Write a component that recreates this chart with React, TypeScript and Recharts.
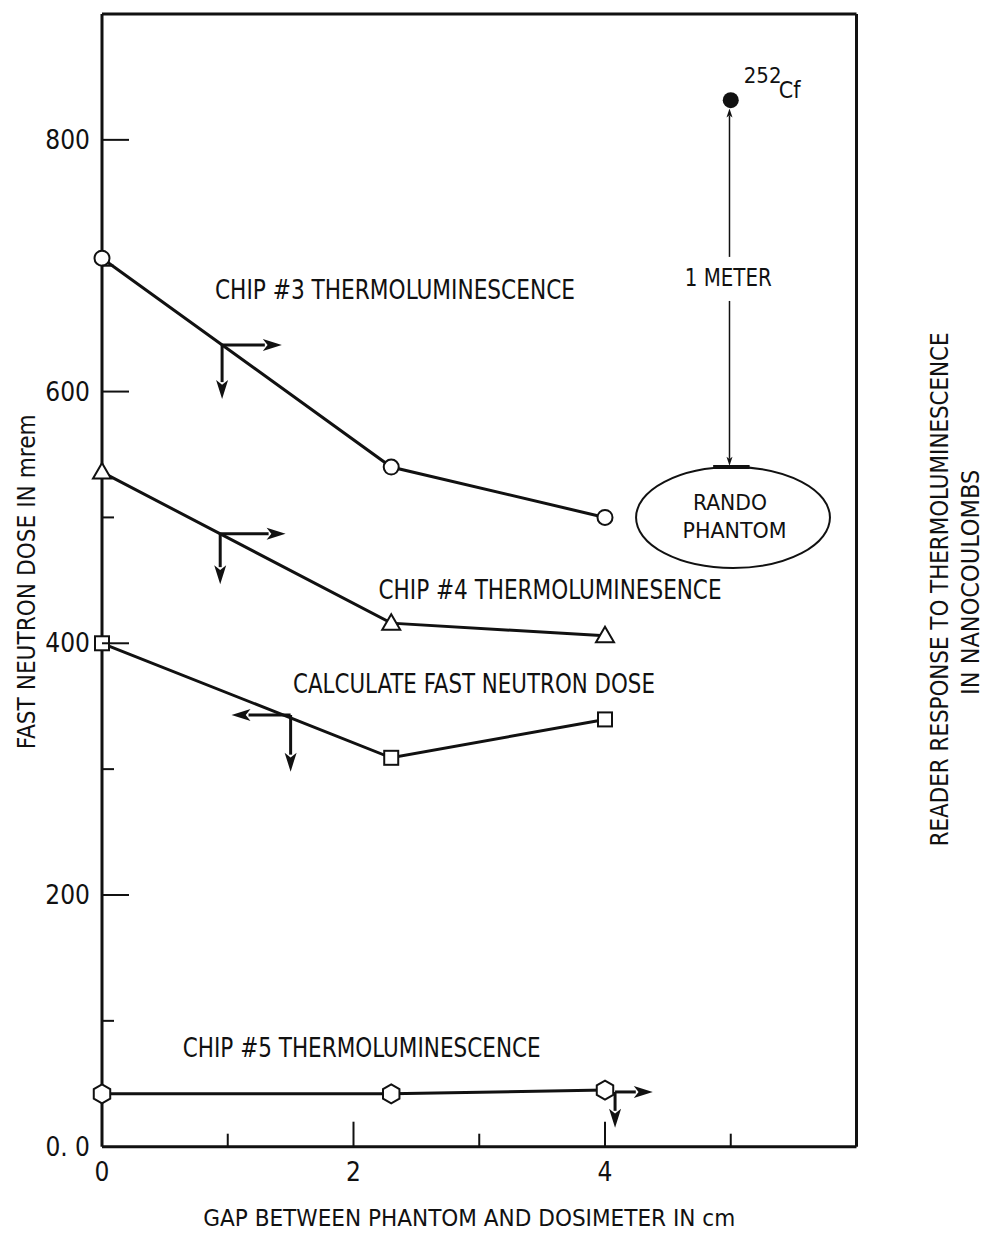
import React from 'react';
import {
  ComposedChart,
  Line,
  XAxis,
  YAxis,
  ReferenceLine,
  ReferenceDot,
  ReferenceArea,
} from 'recharts';

// ---------- data ----------
const gapCm = [0, 2.3, 4];
const chip3Response = [706, 540, 500];
const chip4Response = [536, 416, 406];
const calculatedDose = [400, 309, 339.5];
const chip5Response = [42, 42, 45];

// ---------- axes ----------
const xTicks = [0, 1, 2, 3, 4, 5];
const xTickLabels: Record<number, string> = { 0: '0', 2: '2', 4: '4' };
const leftTicks = [0, 100, 200, 300, 400, 500, 600, 700, 800];
const leftTickLabels: Record<number, string> = { 0: '0. 0', 200: '200', 400: '400', 600: '600', 800: '800' };
const rightTicks = [1, 2, 3, 4, 5, 6, 7, 8];
const rightTickLabels: Record<number, string> = { 2: '2. 0', 4: '4. 0', 6: '6. 0', 8: '8. 0' };

// ---------- annotations (data units) ----------
const textNotes = [
  { text: 'CHIP #3 THERMOLUMINESCENCE', x: 2.33, y: 681, len: 360, size: 26 },
  { text: 'CHIP #4 THERMOLUMINESENCE', x: 3.563, y: 442.6, len: 343, size: 26 },
  { text: 'CALCULATE FAST NEUTRON DOSE', x: 2.958, y: 368, len: 362, size: 26 },
  { text: 'CHIP #5 THERMOLUMINESCENCE', x: 2.065, y: 78.7, len: 358, size: 26 },
  { text: '1 METER', x: 4.98, y: 691, len: 87, size: 24 },
  { text: 'RANDO', x: 4.994, y: 512, len: 74, size: 21 },
  { text: 'PHANTOM', x: 5.03, y: 490, len: 104, size: 21 },
];
const boldArrows = [
  { x1: 0.955, y1: 637, x2: 1.43, y2: 637 },
  { x1: 0.955, y1: 637, x2: 0.955, y2: 594 },
  { x1: 0.94, y1: 487, x2: 1.46, y2: 487 },
  { x1: 0.94, y1: 487, x2: 0.94, y2: 447 },
  { x1: 1.5, y1: 343, x2: 1.03, y2: 343 },
  { x1: 1.5, y1: 343, x2: 1.5, y2: 298 },
  { x1: 4.08, y1: 43.5, x2: 4.38, y2: 43.5 },
  { x1: 4.08, y1: 43.5, x2: 4.08, y2: 15 },
];
const thinArrows = [
  { x1: 4.99, y1: 707, x2: 4.99, y2: 825 },
  { x1: 4.99, y1: 672, x2: 4.99, y2: 541 },
];
const sourcePoint = { x: 5.0, y: 831.5 };
const phantomBox = { x1: 4.247, x2: 5.789, y1: 459.8, y2: 540 };
const phantomPlate = { x1: 4.86, x2: 5.15, y: 540 };

const rows = gapCm.map((g, i) => ({
  gap: g,
  chip3: chip3Response[i],
  chip4: chip4Response[i],
  calc: calculatedDose[i],
  chip5: chip5Response[i],
}));

const FONT = "'Liberation Sans Narrow', 'Arial Narrow', 'DejaVu Sans Condensed', 'Roboto Condensed', sans-serif";
const INK = '#111';

// ---------- tick renderers ----------
const XTick = (props: any) => {
  const { x, y, payload } = props;
  const v = payload.value;
  const major = xTickLabels[v] !== undefined;
  const len = major ? 25 : 13;
  return (
    <g>
      {v !== 0 && <line x1={x} y1={y} x2={x} y2={y - len} stroke={INK} strokeWidth={2} />}
      {major && (
        <text x={x} y={y + 34} textAnchor="middle" fontSize={26} fontFamily={FONT} fill={INK}>
          {xTickLabels[v]}
        </text>
      )}
    </g>
  );
};

const LeftTick = (props: any) => {
  const { x, y, payload } = props;
  const v = payload.value;
  const label = leftTickLabels[v];
  const len = label !== undefined ? 27 : 12;
  return (
    <g>
      {v !== 0 && <line x1={x} y1={y} x2={x + len} y2={y} stroke={INK} strokeWidth={2} />}
      {label !== undefined && (
        <text x={x - 12} y={y + 9} textAnchor="end" fontSize={26} fontFamily={FONT} fill={INK}>
          {label}
        </text>
      )}
    </g>
  );
};

const RightTick = (props: any) => {
  const { x, y, payload } = props;
  const v = payload.value;
  const label = rightTickLabels[v];
  const len = label !== undefined ? 26 : 13;
  return (
    <g>
      <line x1={x} y1={y} x2={x - len} y2={y} stroke={INK} strokeWidth={2} />
      {label !== undefined && (
        <text x={x + 12} y={y + 12} textAnchor="start" fontSize={26} fontFamily={FONT} fill={INK}>
          {label}
        </text>
      )}
    </g>
  );
};

// ---------- axis titles ----------
const LeftTitle = (props: any) => {
  const vb = props.viewBox || {};
  const cx = vb.x - 15.5 + 8.5;
  const cy = vb.y + vb.height / 2 + 1.5;
  return (
    <text x={cx} y={cy} transform={`rotate(-90, ${cx}, ${cy})`} textAnchor="middle" fontSize={24}
      fontFamily={FONT} fill={INK} textLength={335} lengthAdjust="spacingAndGlyphs">
      FAST NEUTRON DOSE IN mrem
    </text>
  );
};

const RightTitle = (props: any) => {
  const vb = props.viewBox || {};
  const cx1 = vb.x + 82.5 + 9;
  const cx2 = vb.x + 113.5 + 9;
  const cy = vb.y + vb.height / 2 + 9;
  return (
    <g>
      <text x={cx1} y={cy} transform={`rotate(-90, ${cx1}, ${cy})`} textAnchor="middle" fontSize={25}
        fontFamily={FONT} fill={INK} textLength={514} lengthAdjust="spacingAndGlyphs">
        READER RESPONSE TO THERMOLUMINESCENCE
      </text>
      <text x={cx2} y={cy - 7} transform={`rotate(-90, ${cx2}, ${cy - 7})`} textAnchor="middle" fontSize={25}
        fontFamily={FONT} fill={INK}>
        IN NANOCOULOMBS
      </text>
    </g>
  );
};

const XTitle = (props: any) => {
  const vb = props.viewBox || {};
  const cx = vb.x + vb.width / 2 - 10;
  const cy = vb.y + 79;
  return (
    <text x={cx} y={cy} textAnchor="middle" fontSize={23} fontFamily={FONT} fill={INK}
      textLength={532} lengthAdjust="spacingAndGlyphs">
      GAP BETWEEN PHANTOM AND DOSIMETER IN cm
    </text>
  );
};

// ---------- markers ----------
const CircleDot = (p: any) => (
  <circle key={`c${p.index}`} cx={p.cx} cy={p.cy} r={7.5} fill="#fff" stroke={INK} strokeWidth={2} />
);
const TriangleDot = (p: any) => (
  <polygon key={`t${p.index}`}
    points={`${p.cx},${p.cy - 9} ${p.cx - 9},${p.cy + 6.5} ${p.cx + 9},${p.cy + 6.5}`}
    fill="#fff" stroke={INK} strokeWidth={2} />
);
const SquareDot = (p: any) => (
  <rect key={`s${p.index}`} x={p.cx - 7} y={p.cy - 7} width={14} height={14} fill="#fff" stroke={INK} strokeWidth={2} />
);
const HexDot = (p: any) => {
  const r = 9.5;
  const pts = [0, 1, 2, 3, 4, 5]
    .map((k) => {
      const a = (Math.PI / 3) * k - Math.PI / 2;
      return `${p.cx + r * Math.cos(a)},${p.cy + r * Math.sin(a)}`;
    })
    .join(' ');
  return <polygon key={`h${p.index}`} points={pts} fill="#fff" stroke={INK} strokeWidth={2} />;
};

// ---------- annotation shapes ----------
const makeArrow = (width: number, headLen: number, headW: number) => (props: any) => {
  const { x1, y1, x2, y2 } = props;
  const dx = x2 - x1;
  const dy = y2 - y1;
  const L = Math.sqrt(dx * dx + dy * dy) || 1;
  const ux = dx / L;
  const uy = dy / L;
  const bx = x2 - ux * headLen;
  const by = y2 - uy * headLen;
  const nx = -uy;
  const ny = ux;
  return (
    <g>
      <line x1={x1} y1={y1} x2={bx + ux * 2} y2={by + uy * 2} stroke={INK} strokeWidth={width} />
      <polygon
        points={`${x2},${y2} ${bx + nx * headW / 2},${by + ny * headW / 2} ${bx + ux * headLen * 0.25},${by + uy * headLen * 0.25} ${bx - nx * headW / 2},${by - ny * headW / 2}`}
        fill={INK}
      />
    </g>
  );
};
const BoldArrow = makeArrow(3, 19, 12);
const ThinArrow = makeArrow(1.5, 9, 6);

const NoteText = (note: { text: string; len: number; size: number }) => (props: any) => (
  <text x={props.cx} y={props.cy + note.size * 0.36} textAnchor="middle" fontSize={note.size} fontFamily={FONT} fill={INK}
    textLength={note.len} lengthAdjust="spacingAndGlyphs">
    {note.text}
  </text>
);

const SourceShape = (props: any) => (
  <g>
    <circle cx={props.cx} cy={props.cy} r={8} fill={INK} />
    <text x={props.cx + 13} y={props.cy - 17} fontSize={22} fontFamily={FONT} fill={INK}>252</text>
    <text x={props.cx + 48} y={props.cy - 2} fontSize={23} fontFamily={FONT} fill={INK}>Cf</text>
  </g>
);

const EllipseShape = (props: any) => {
  const { x, y, width, height } = props;
  return (
    <ellipse cx={x + width / 2} cy={y + height / 2} rx={width / 2} ry={height / 2} fill="none" stroke={INK} strokeWidth={2} />
  );
};

export default function App() {
  return (
    <div style={{ position: 'absolute', left: 0, top: 0, width: 989, height: 1233, background: '#fff' }}>
      <ComposedChart
        width={989}
        height={1233}
        data={rows}
        margin={{ top: 14, right: 72.5, bottom: 46.3, left: 42 }}
      >
        <XAxis
          dataKey="gap"
          type="number"
          domain={[0, 6]}
          ticks={xTicks}
          interval={0}
          height={40}
          axisLine={{ stroke: INK, strokeWidth: 3 }}
          tickLine={false}
          tickSize={0}
          tickMargin={0}
          tick={<XTick />}
          label={<XTitle />}
        />
        <YAxis
          yAxisId="left"
          type="number"
          domain={[0, 900]}
          ticks={leftTicks}
          interval={0}
          width={60}
          axisLine={{ stroke: INK, strokeWidth: 3 }}
          tickLine={false}
          tickSize={0}
          tickMargin={0}
          tick={<LeftTick />}
          label={<LeftTitle />}
        />
        <YAxis
          yAxisId="right"
          orientation="right"
          type="number"
          domain={[0, 9]}
          ticks={rightTicks}
          interval={0}
          width={60}
          axisLine={{ stroke: INK, strokeWidth: 3 }}
          tickLine={false}
          tickSize={0}
          tickMargin={0}
          tick={<RightTick />}
          label={<RightTitle />}
        />
        <ReferenceLine yAxisId="left" y={900} stroke={INK} strokeWidth={3} ifOverflow="visible" />

        {boldArrows.map((a, i) => (
          <ReferenceLine
            key={`ba${i}`}
            yAxisId="left"
            ifOverflow="visible"
            segment={[{ x: a.x1, y: a.y1 }, { x: a.x2, y: a.y2 }]}
            shape={BoldArrow}
          />
        ))}
        {thinArrows.map((a, i) => (
          <ReferenceLine
            key={`ta${i}`}
            yAxisId="left"
            ifOverflow="visible"
            segment={[{ x: a.x1, y: a.y1 }, { x: a.x2, y: a.y2 }]}
            shape={ThinArrow}
          />
        ))}
        <ReferenceArea
          yAxisId="left"
          x1={phantomBox.x1}
          x2={phantomBox.x2}
          y1={phantomBox.y1}
          y2={phantomBox.y2}
          ifOverflow="visible"
          shape={EllipseShape}
        />
        <ReferenceLine
          yAxisId="left"
          ifOverflow="visible"
          segment={[{ x: phantomPlate.x1, y: phantomPlate.y }, { x: phantomPlate.x2, y: phantomPlate.y }]}
          stroke={INK}
          strokeWidth={4}
        />

        <Line yAxisId="left" dataKey="chip3" stroke={INK} strokeWidth={3} dot={CircleDot} activeDot={false} isAnimationActive={false} type="linear" />
        <Line yAxisId="left" dataKey="chip4" stroke={INK} strokeWidth={3} dot={TriangleDot} activeDot={false} isAnimationActive={false} type="linear" />
        <Line yAxisId="left" dataKey="calc" stroke={INK} strokeWidth={3} dot={SquareDot} activeDot={false} isAnimationActive={false} type="linear" />
        <Line yAxisId="left" dataKey="chip5" stroke={INK} strokeWidth={3} dot={HexDot} activeDot={false} isAnimationActive={false} type="linear" />

        <ReferenceDot yAxisId="left" x={sourcePoint.x} y={sourcePoint.y} r={8} ifOverflow="visible" shape={SourceShape} />
        {textNotes.map((n, i) => (
          <ReferenceDot key={`n${i}`} yAxisId="left" x={n.x} y={n.y} r={0} ifOverflow="visible" shape={NoteText(n)} />
        ))}
      </ComposedChart>
    </div>
  );
}
